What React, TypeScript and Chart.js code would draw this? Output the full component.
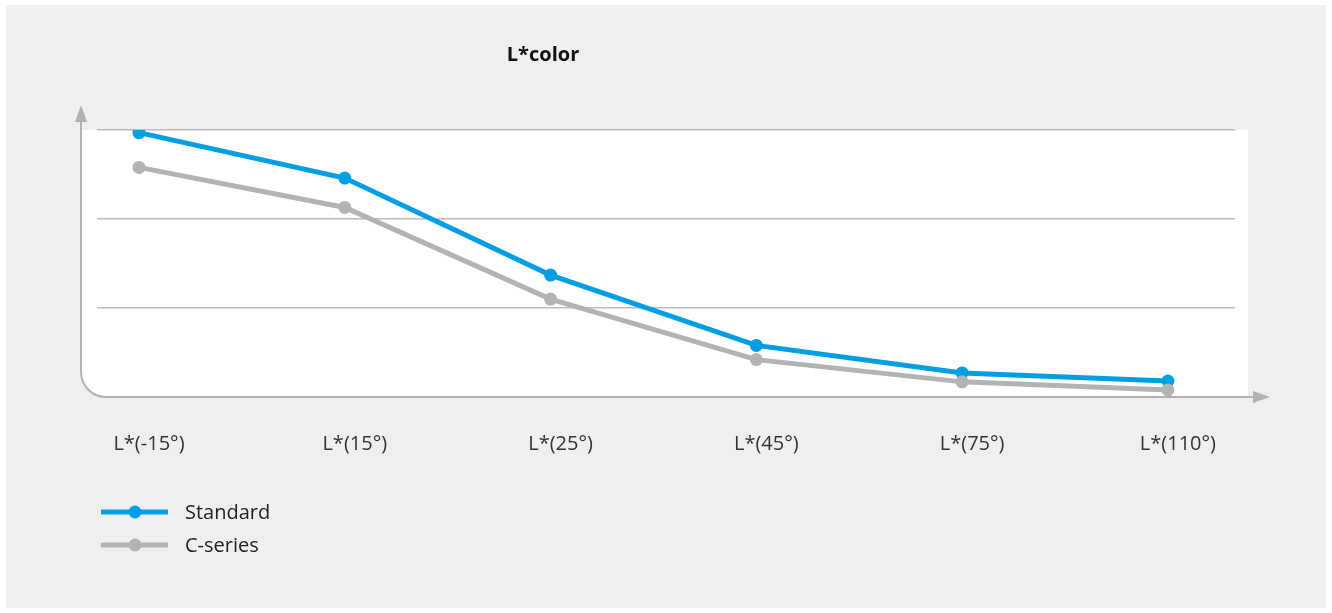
import React, { useEffect, useRef } from 'react';
import { Chart, registerables } from 'chart.js';

Chart.register(...registerables);

const categories = ['L*(-15°)', 'L*(15°)', 'L*(25°)', 'L*(45°)', 'L*(75°)', 'L*(110°)'];
const standardValues = [29.7, 24.6, 13.7, 5.8, 2.7, 1.8];
const cSeriesValues = [25.8, 21.3, 11.0, 4.2, 1.7, 0.8];
const yTickValues = [0, 10, 20, 30];
const seriesNames = ['Standard', 'C-series'];
const seriesColors = ['#009fe3', '#b3b3b3'];
const titleText = 'L*color';

const FONT = '"Open Sans", "Noto Sans", sans-serif';

const decorPlugin = {
  id: 'decor',
  beforeDraw(chart: any) {
    const { ctx, chartArea: ca, width, height } = chart;
    ctx.save();
    ctx.fillStyle = '#efefef';
    ctx.fillRect(6, 5, width - 12, height - 10);
    const axisX = ca.left - 16;
    const axisY = ca.bottom;
    const right = ca.right + 13;
    const r = 25;
    ctx.fillStyle = '#ffffff';
    ctx.beginPath();
    ctx.moveTo(axisX, ca.top);
    ctx.lineTo(right, ca.top);
    ctx.lineTo(right, axisY);
    ctx.lineTo(axisX + r, axisY);
    ctx.arcTo(axisX, axisY, axisX, axisY - r, r);
    ctx.closePath();
    ctx.fill();
    ctx.restore();
  },
  beforeDatasetsDraw(chart: any) {
    const { ctx, chartArea: ca } = chart;
    const axisX = ca.left - 16;
    const axisY = ca.bottom;
    const r = 25;
    const yTip = ca.top - 25;
    const xTip = ca.right + 35;
    ctx.save();
    ctx.strokeStyle = '#b2b2b2';
    ctx.fillStyle = '#b2b2b2';
    ctx.lineWidth = 2;
    ctx.beginPath();
    ctx.moveTo(axisX, yTip + 14);
    ctx.lineTo(axisX, axisY - r);
    ctx.arcTo(axisX, axisY, axisX + r, axisY, r);
    ctx.lineTo(xTip - 14, axisY);
    ctx.stroke();
    ctx.beginPath();
    ctx.moveTo(axisX, yTip);
    ctx.lineTo(axisX - 6, yTip + 17);
    ctx.lineTo(axisX + 6, yTip + 17);
    ctx.closePath();
    ctx.fill();
    ctx.beginPath();
    ctx.moveTo(xTip, axisY);
    ctx.lineTo(xTip - 17, axisY - 6);
    ctx.lineTo(xTip - 17, axisY + 6);
    ctx.closePath();
    ctx.fill();
    ctx.restore();
  },
  afterDraw(chart: any) {
    const { ctx } = chart;
    ctx.save();
    ctx.fillStyle = '#111111';
    ctx.font = `bold 20px ${FONT}`;
    ctx.textAlign = 'center';
    ctx.textBaseline = 'middle';
    ctx.fillText(titleText, 543, 55);
    chart.data.datasets.forEach((ds: any, i: number) => {
      const y = 512 + i * 33;
      ctx.strokeStyle = ds.borderColor;
      ctx.fillStyle = ds.borderColor;
      ctx.lineWidth = 5;
      ctx.beginPath();
      ctx.moveTo(101, y);
      ctx.lineTo(168, y);
      ctx.stroke();
      ctx.beginPath();
      ctx.arc(135, y, 6.5, 0, Math.PI * 2);
      ctx.fill();
      ctx.fillStyle = '#222222';
      ctx.font = `20px ${FONT}`;
      ctx.textAlign = 'left';
      ctx.textBaseline = 'middle';
      ctx.fillText(ds.label, 185, y + 1);
    });
    ctx.restore();
  },
};

export default function App() {
  const canvasRef = useRef<HTMLCanvasElement | null>(null);

  useEffect(() => {
    document.body.style.margin = '0';
    const canvas = canvasRef.current;
    if (!canvas) return;
    const makeData = (vals: number[]) => vals.map((v, i) => ({ x: i, y: v }));
    const common = {
      borderWidth: 5,
      pointRadius: 6.5,
      pointHoverRadius: 6.5,
      pointBorderWidth: 0,
      tension: 0,
    };
    const chart = new Chart(canvas, {
      type: 'line',
      data: {
        datasets: [
          {
            ...common,
            label: seriesNames[0],
            data: makeData(standardValues),
            borderColor: seriesColors[0],
            backgroundColor: seriesColors[0],
            pointBackgroundColor: seriesColors[0],
            order: 1,
          },
          {
            ...common,
            label: seriesNames[1],
            data: makeData(cSeriesValues),
            borderColor: seriesColors[1],
            backgroundColor: seriesColors[1],
            pointBackgroundColor: seriesColors[1],
            order: 0,
          },
        ],
      },
      options: {
        responsive: false,
        animation: false,
        layout: { padding: { left: 97, right: 97, top: 130, bottom: 156 } },
        plugins: {
          legend: { display: false },
          title: { display: false },
          tooltip: { enabled: false },
        },
        scales: {
          x: {
            type: 'linear',
            min: -0.204,
            max: 5.326,
            grid: { display: false },
            border: { display: false },
            afterBuildTicks: (scale: any) => {
              scale.ticks = categories.map((_, i) => ({ value: i }));
            },
            afterFit: (scale: any) => {
              scale.height = 60;
            },
            ticks: {
              padding: 27,
              labelOffset: 10,
              maxRotation: 0,
              autoSkip: false,
              color: '#333333',
              font: { family: FONT, size: 20 },
              callback: (value: any) => categories[Math.round(Number(value))] ?? '',
            },
          },
          y: {
            type: 'linear',
            min: 0,
            max: 30,
            afterBuildTicks: (scale: any) => {
              scale.ticks = yTickValues.map((v) => ({ value: v }));
            },
            afterFit: (scale: any) => {
              scale.width = 0;
            },
            border: { display: false },
            grid: {
              drawTicks: false,
              lineWidth: 1.5,
              color: (c: any) => (c.tick && c.tick.value === 0 ? 'rgba(0,0,0,0)' : '#bcbcbc'),
            },
            ticks: { display: false },
          },
        },
      },
      plugins: [decorPlugin],
    });
    return () => chart.destroy();
  }, []);

  return (
    <div style={{ width: 1332, height: 613, overflow: 'hidden' }}>
      <canvas ref={canvasRef} width={1332} height={613} style={{ display: 'block' }} />
    </div>
  );
}
